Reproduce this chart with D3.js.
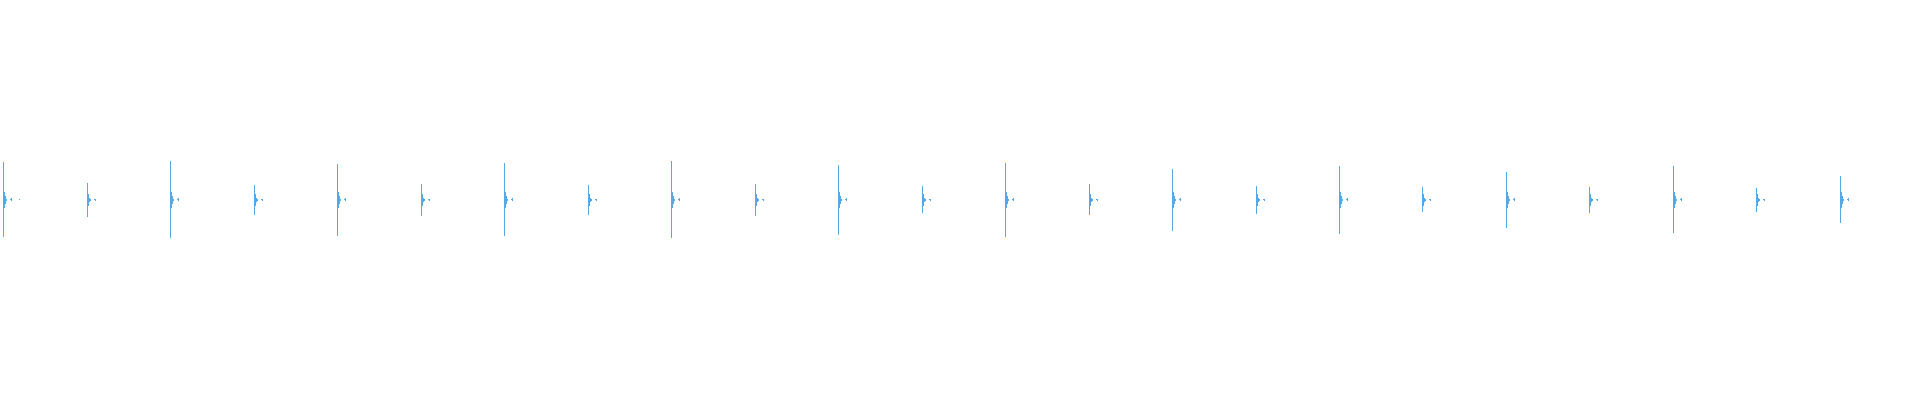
<!DOCTYPE html>
<html><head><meta charset="utf-8">
<script src="https://cdn.jsdelivr.net/npm/d3@7"></script>
<style>html,body{margin:0;background:#fff}svg{display:block}</style>
</head><body><div id="chart"></div>
<script>
// click-track waveform — accented / plain beats every 0.5 s
const beatTimes = [0.02,0.52,1.02,1.52,2.02,2.52,3.02,3.52,4.02,4.52,5.02,5.52,6.02,6.52,7.02,7.52,8.02,8.52,9.02,9.52,10.02,10.52,11.02];
const beatKind  = ['accent','plain','accent','plain','accent','plain','accent','plain','accent','plain','accent','plain',
                   'accent','plain','accent','plain','accent','plain','accent','plain','accent','plain','accent'];
const peakHi = [0.190,0.085,0.195,0.075,0.180,0.080,0.185,0.075,0.195,0.080,0.175,0.070,0.185,0.080,0.155,0.070,0.170,0.065,0.140,0.065,0.170,0.060,0.120];
const peakLo = [0.185,0.083,0.188,0.075,0.178,0.078,0.178,0.075,0.188,0.078,0.175,0.063,0.183,0.073,0.153,0.068,0.168,0.058,0.138,0.063,0.163,0.058,0.113];
// decay after each click (seconds after the click, amplitude)
const ringOffsets = [0.006,0.012,0.018];
const ringAccent  = [0.040,0.019,0.006];
const ringPlain   = [0.030,0.011,0.005];
const blipOffsets = [0.042,0.048];
const blipAccent  = [0.003,0.009];
const blipPlain   = [0.003,0.007];
// late echo, only on the very first click
const echoTimes = [0.116];
const echoAmp   = [0.004];

const W = 1920, H = 400;
const svg = d3.select('#chart').append('svg').attr('width',W).attr('height',H);
const x = d3.scaleLinear().domain([0,11.5]).range([0,W]);
const y = d3.scaleLinear().domain([-1,1]).range([H,0]);
const COL = '#55a8e2';

const cols = [];
beatTimes.forEach((t,i)=>{
  const acc = beatKind[i]==='accent';
  cols.push({t, hi:peakHi[i], lo:peakLo[i]});
  const ring = acc ? ringAccent : ringPlain;
  ringOffsets.forEach((o,k)=>cols.push({t:t+o, hi:ring[k], lo:ring[k]}));
  const blip = acc ? blipAccent : blipPlain;
  blipOffsets.forEach((o,k)=>cols.push({t:t+o, hi:blip[k], lo:blip[k]*0.7}));
});
echoTimes.forEach((t,i)=>cols.push({t, hi:echoAmp[i], lo:echoAmp[i]*0.5}));

svg.append('g').attr('shape-rendering','crispEdges').selectAll('rect').data(cols).join('rect')
  .attr('x',d=>Math.round(x(d.t)))
  .attr('width',1)
  .attr('y',d=>y(d.hi))
  .attr('height',d=>Math.max(1,y(-d.lo)-y(d.hi)))
  .attr('fill',COL);
</script></body></html>
